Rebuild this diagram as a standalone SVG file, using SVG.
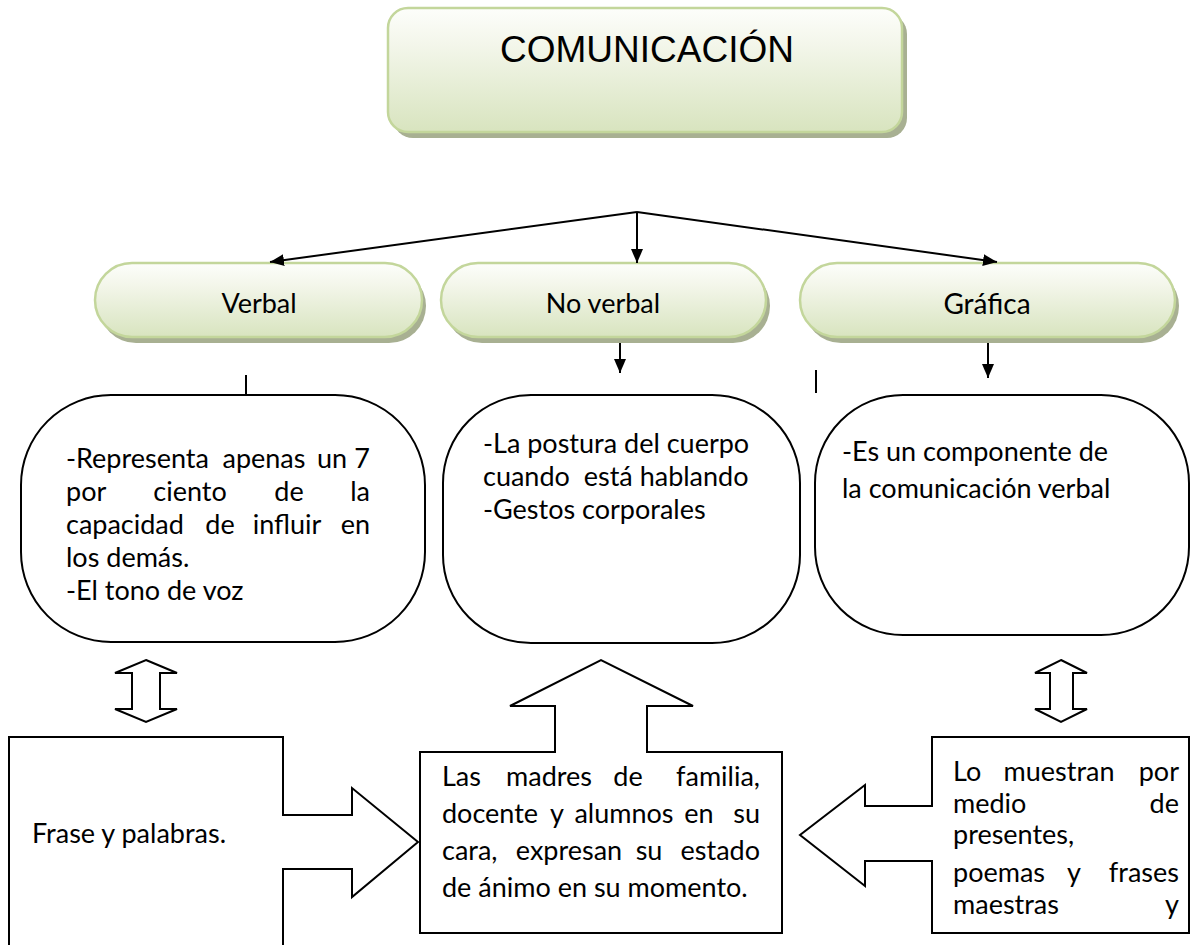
<svg xmlns="http://www.w3.org/2000/svg" width="1190" height="945" viewBox="0 0 1190 945">
<defs>
<linearGradient id="g" x1="0" y1="0" x2="0" y2="1">
<stop offset="0" stop-color="#fdfefb"/>
<stop offset="0.3" stop-color="#f3f6ea"/>
<stop offset="1" stop-color="#d8e4bf"/>
</linearGradient>
<marker id="ah" markerUnits="userSpaceOnUse" markerWidth="14" markerHeight="12" refX="14" refY="6" orient="auto">
<path d="M0,0 L14,6 L0,12 Z" fill="#000"/>
</marker>
<style>
.sh{fill:#a8b092}
.gn{fill:url(#g);stroke:#c3d69b;stroke-width:2.5}
.bx{fill:#fff;stroke:#000;stroke-width:2}
.ln{stroke:#000;stroke-width:2;fill:none}
.t{font-family:Lato,"Open Sans",sans-serif;font-size:27px;fill:#000}
.m{text-anchor:middle}
.e{text-anchor:end}
.tt{font-family:"Liberation Sans",Arial,sans-serif;font-size:37px;fill:#000}
</style>
</defs>
<rect width="1190" height="945" fill="#fff"/>

<g id="comunicacion">
<rect class="sh" x="393" y="14" width="514" height="124" rx="20"/>
<rect class="gn" x="388" y="8" width="514" height="124" rx="20"/>
<text class="tt" x="647" y="62" text-anchor="middle">COMUNICACIÓN</text>
</g>

<g id="verbal">
<rect class="sh" x="99" y="269" width="327" height="74" rx="37"/>
<rect class="gn" x="95" y="263" width="327" height="74" rx="37"/>
<text class="t m" x="259" y="313">Verbal</text>
</g>
<g id="noverbal">
<rect class="sh" x="445" y="269" width="325" height="74" rx="37"/>
<rect class="gn" x="441" y="263" width="325" height="74" rx="37"/>
<text class="t m" x="603" y="313">No verbal</text>
</g>
<g id="grafica">
<rect class="sh" x="804" y="269" width="375" height="74" rx="37"/>
<rect class="gn" x="800" y="263" width="375" height="74" rx="37"/>
<text class="t m" x="987" y="314" style="font-size:28px">Gráfica</text>
</g>

<g id="connectors">
<line class="ln" x1="637" y1="212" x2="270" y2="262" marker-end="url(#ah)"/>
<line class="ln" x1="637" y1="212" x2="637" y2="263" marker-end="url(#ah)"/>
<line class="ln" x1="637" y1="212" x2="997" y2="262" marker-end="url(#ah)"/>
<line class="ln" x1="620" y1="343" x2="620" y2="373" marker-end="url(#ah)"/>
<line class="ln" x1="988" y1="343" x2="988" y2="378" marker-end="url(#ah)"/>
<line class="ln" x1="246" y1="375" x2="246" y2="395"/>
<line class="ln" x1="816" y1="370" x2="816" y2="393"/>
<path class="bx" d="M146,660 L177,673 H160 V709 H177 L146,722 L115,709 H132 V673 H115 Z"/>
<path class="bx" d="M1061,660 L1087,673 H1073 V709 H1087 L1061,722 L1035,709 H1050 V673 H1035 Z"/>
</g>

<g id="verbal-desc">
<rect class="bx" x="21" y="395" width="404" height="247" rx="90"/>
<text class="t" x="66" y="468">-Representa</text>
<text class="t m" x="264" y="468">apenas</text>
<text class="t m" x="332" y="468">un</text>
<text class="t e" x="370" y="468">7</text>
<text class="t" x="66" y="501">por</text>
<text class="t m" x="190" y="501">ciento</text>
<text class="t m" x="289" y="501">de</text>
<text class="t e" x="370" y="501">la</text>
<text class="t" x="66" y="534">capacidad</text>
<text class="t m" x="220" y="534">de</text>
<text class="t m" x="287" y="534">influir</text>
<text class="t e" x="370" y="534">en</text>
<text class="t" x="66" y="567">los demás.</text>
<text class="t" x="66" y="600">-El tono de voz</text>
</g>

<g id="noverbal-desc">
<rect class="bx" x="443" y="395" width="357" height="248" rx="88"/>
<text class="t" x="483" y="453">-La postura del cuerpo</text>
<text class="t" x="483" y="486" xml:space="preserve">cuando  está hablando</text>
<text class="t" x="483" y="519">-Gestos corporales</text>
</g>

<g id="grafica-desc">
<rect class="bx" x="815" y="395" width="374" height="240" rx="88"/>
<text class="t" x="842" y="461">-Es un componente de</text>
<text class="t" x="842" y="498">la comunicación verbal</text>
</g>

<g id="frase">
<path class="bx" d="M9,950 V737 H283 V815 H352 V788 L418,842 L352,897 V869 H283 V950"/>
<text class="t" x="32" y="843">Frase y palabras.</text>
</g>

<g id="madres">
<path class="bx" d="M420,752 H555 V706 H510 L601,660 L693,706 H647 V752 H782 V933 H420 Z"/>
<text class="t" x="442" y="786">Las</text>
<text class="t m" x="549" y="786">madres</text>
<text class="t m" x="628" y="786">de</text>
<text class="t e" x="760" y="786">familia,</text>
<text class="t" x="442" y="823">docente</text>
<text class="t m" x="557" y="823">y</text>
<text class="t m" x="624" y="823">alumnos</text>
<text class="t m" x="699" y="823">en</text>
<text class="t e" x="760" y="823">su</text>
<text class="t" x="442" y="860">cara,</text>
<text class="t m" x="569" y="860">expresan</text>
<text class="t m" x="649" y="860">su</text>
<text class="t e" x="760" y="860">estado</text>
<text class="t" x="442" y="897">de ánimo en su momento.</text>
</g>

<g id="muestran">
<path class="bx" d="M932,737 H1189 V933 H932 V861 H865 V886 L800,835 L865,785 V806 H932 Z"/>
<text class="t" x="953" y="781">Lo</text>
<text class="t m" x="1059" y="781">muestran</text>
<text class="t e" x="1179" y="781">por</text>
<text class="t" x="953" y="813">medio</text>
<text class="t e" x="1179" y="813">de</text>
<text class="t" x="953" y="844">presentes,</text>
<text class="t" x="953" y="882">poemas</text>
<text class="t m" x="1074" y="882">y</text>
<text class="t e" x="1179" y="882">frases</text>
<text class="t" x="953" y="914">maestras</text>
<text class="t e" x="1179" y="914">y</text>
</g>
</svg>
